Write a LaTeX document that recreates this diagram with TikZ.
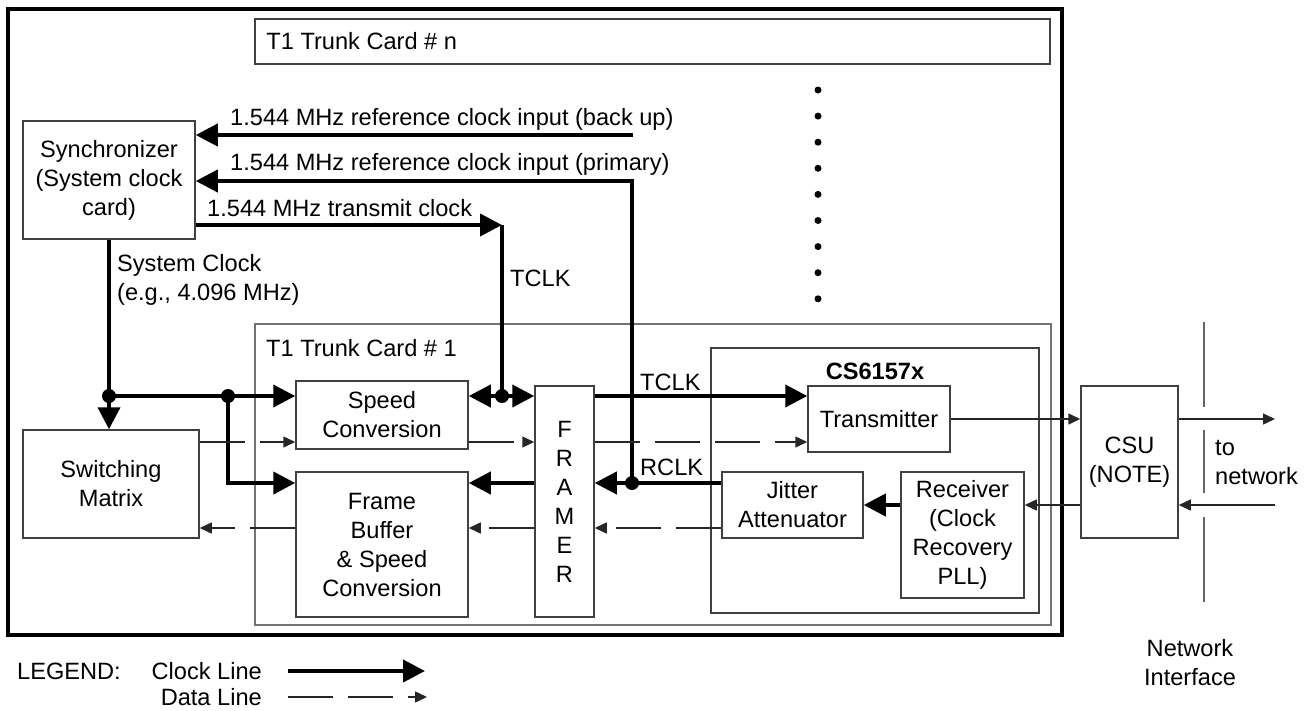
\documentclass[tikz,border=0pt]{standalone}
\usepackage{fontspec}
\setmainfont{Liberation Sans}
\usetikzlibrary{arrows.meta}
\tikzset{
  blk/.style={draw=black!75, line width=1.5pt, inner sep=0pt, align=center},
  card/.style={draw=black!55, line width=2pt, inner sep=0pt},
  lbl/.style={inner sep=0pt, anchor=west, align=left},
  clk/.style={line width=4pt, -{Triangle[length=22pt,width=22pt]}},
  dat/.style={line width=1.5pt, black!85, dash pattern=on 45pt off 15pt, -{Triangle[length=12pt,width=11pt]}},
  sig/.style={line width=1.5pt, black!85, -{Triangle[length=12pt,width=11pt]}},
  jdot/.style={circle, fill, inner sep=0pt, minimum size=14pt},
}
\begin{document}
\begin{tikzpicture}[x=1pt, y=-1pt, font=\fontsize{23.6}{29}\selectfont]
\useasboundingbox (0,0) rectangle (1307,710);

% Rahmen der Vermittlung
\draw[line width=3.5pt] (8,9) rectangle (1062,635);

% Karten
\node[blk, minimum width=795pt, minimum height=45pt] (cardn) at (652.5,41.5) {};
\node[lbl] at ([xshift=12pt]cardn.west) {T1 Trunk Card \# n};
\node[card, minimum width=796pt, minimum height=301pt] (card1) at (653,474.5) {};
\node[lbl] at (266,348) {T1 Trunk Card \# 1};
\foreach \i in {0,...,8}
  \fill (818,90+26.1*\i) circle (3.5pt);

% Bloecke
\node[blk, minimum width=172pt, minimum height=118pt] (synch) at (109,180) {Synchronizer\\(System clock\\card)};
\node[blk, minimum width=176pt, minimum height=108pt] (switch) at (111,484) {Switching\\Matrix};
\node[blk, minimum width=172pt, minimum height=68pt] (speed) at (382,415) {Speed\\Conversion};
\node[blk, minimum width=172pt, minimum height=145pt] (fbuf) at (382,544.5) {Frame\\Buffer\\\& Speed\\Conversion};
\node[blk, minimum width=59pt, minimum height=231pt] (framer) at (564.5,501.5) {F\\R\\A\\M\\E\\R};
\node[blk, minimum width=328pt, minimum height=265pt] (cs) at (875,480.5) {};
\node[font=\fontsize{23.6}{29}\selectfont\bfseries] at (875,371) {CS6157x};
\node[blk, minimum width=142pt, minimum height=66pt] (tx) at (879,419) {Transmitter};
\node[blk, minimum width=141pt, minimum height=66pt] (jit) at (792.5,505) {Jitter\\Attenuator};
\node[blk, minimum width=123pt, minimum height=126pt] (rx) at (962.5,535) {Receiver\\(Clock\\Recovery\\PLL)};
\node[blk, minimum width=97pt, minimum height=152pt] (csu) at (1129.5,462) {CSU\\(NOTE)};

% Knoten der Taktleitungen
\coordinate (bkin) at (633,135);
\coordinate (prin) at (632,181);
\coordinate (tc) at (502,225);
\coordinate (tj) at (502,396);
\coordinate (rj) at (632,483);
\coordinate (sj) at (109,396);
\coordinate (bj) at (228,396);

% Taktleitungen
\draw[clk] (bkin) -- (synch.east |- bkin);
\draw[clk] (rj) -- (prin) -- (synch.east |- prin);
\draw[clk] (synch.east |- tc) -- (tc);
\draw[line width=4pt] (tc) -- (tj);
\draw[clk] (tj) -- (speed.east |- tj);
\draw[clk] (tj) -- (framer.west |- tj);
\draw[clk] (framer.east |- tj) -- (tx.west |- tj);
\draw[clk] (jit.west |- rj) -- (framer.east |- rj);
\draw[clk] (framer.west |- rj) -- (fbuf.east |- rj);
\draw[clk] (rx.west |- jit) -- (jit.east);
\draw[clk] (synch.south) -- (synch.south |- switch.north);
\draw[clk] (sj) -- (speed.west |- sj);
\draw[clk] (bj) |- (fbuf.west |- rj);
\foreach \j in {tj,rj,sj,bj}
  \node[jdot] at (\j) {};

% Datenleitungen
\coordinate (dt) at (0,442);
\coordinate (db) at (0,528);
\draw[dat] (switch.east |- dt) -- (speed.west |- dt);
\draw[dat] (speed.east |- dt) -- (framer.west |- dt);
\draw[dat] (framer.east |- dt) -- (tx.west |- dt);
\draw[dat] (jit.west |- db) -- (framer.east |- db);
\draw[dat] (framer.west |- db) -- (fbuf.east |- db);
\draw[dat] (fbuf.west |- db) -- (switch.east |- db);

% Netzseite
\coordinate (netout) at (1275,419);
\coordinate (netin) at (1275,505);
\draw[sig] (tx.east) -- (csu.west |- tx.east);
\draw[sig] (csu.east |- netout) -- (netout);
\draw[sig] (netin) -- (csu.east |- netin);
\draw[sig] (csu.west |- netin) -- (rx.east |- netin);
\draw[black!60, line width=1.5pt] (1204,322) -- (1204,407) (1204,430) -- (1204,493) (1204,517) -- (1204,602);

% Beschriftungen
\node[lbl] at (230,119) {1.544 MHz reference clock input (back up)};
\node[lbl] at (230,164) {1.544 MHz reference clock input (primary)};
\node[lbl] at (207,208) {1.544 MHz transmit clock};
\node[lbl] at (117,280) {System Clock\\(e.g., 4.096 MHz)};
\node[lbl] at (510,278) {TCLK};
\node[lbl] at (640,382) {TCLK};
\node[lbl] at (640,467) {RCLK};
\node[lbl] at (1215,462) {to\\network};
\node[inner sep=0pt, align=center] at (1190,663) {Network\\Interface};

% Legende
\node[lbl] at (17,671) {LEGEND:};
\node[inner sep=0pt, anchor=east] (clkl) at (262,671) {Clock Line};
\node[inner sep=0pt, anchor=east] (datl) at (262,697) {Data Line};
\draw[clk] ([xshift=26pt]clkl.east) -- ++(137,0);
\draw[dat] ([xshift=26pt]datl.east) -- ++(139,0);
\end{tikzpicture}
\end{document}
